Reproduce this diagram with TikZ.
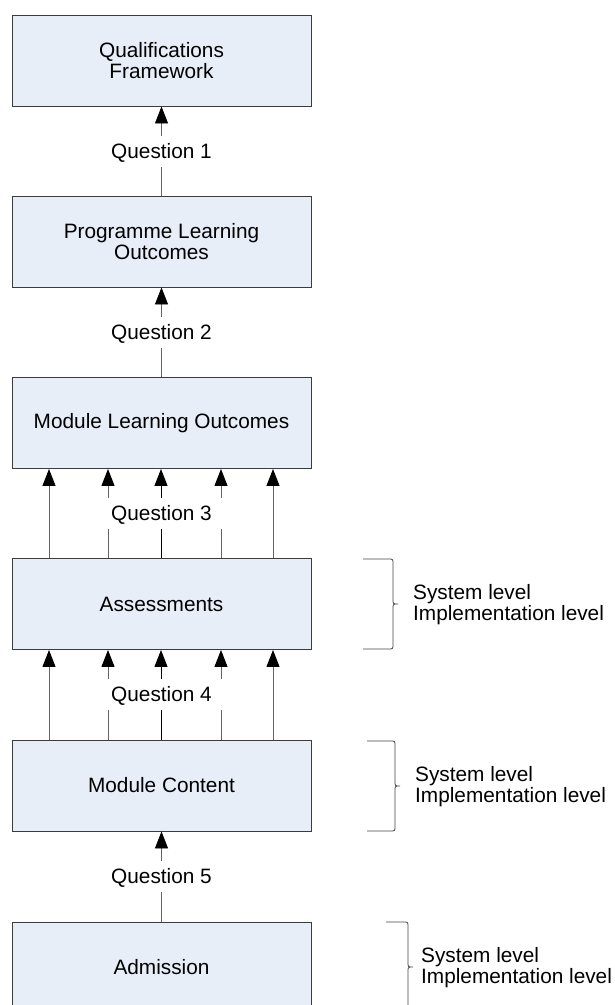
\documentclass[tikz,border=0pt]{standalone}
\usepackage{fontspec}
\setmainfont{Liberation Sans}
\usetikzlibrary{arrows.meta,calc}
\definecolor{boxfill}{RGB}{232,238,248}
\definecolor{boxline}{RGB}{60,60,60}
\definecolor{connline}{RGB}{100,100,100}
\definecolor{braceline}{RGB}{70,70,70}
\tikzset{
  stagebox/.style={draw=boxline, line width=0.9pt, fill=boxfill, minimum width=299pt, minimum height=91pt, inner sep=0pt, align=center, font=\fontsize{20.8}{21}\selectfont},
  conn/.style={draw=connline, line width=0.9pt, -{Triangle[length=17pt,width=13pt,color=black]}},
  connmid/.style={conn, draw=black},
  qlabel/.style={fill=white, font=\fontsize{20.8}{21}\selectfont, text height=15pt, text depth=1pt, inner ysep=7.5pt, inner xsep=4pt},
  qwide/.style={qlabel, minimum width=124pt},
  bracestyle/.style={draw=braceline, line width=0.8pt},
  leveltext/.style={align=left, anchor=west, inner sep=0pt, font=\fontsize{20.8}{21}\selectfont}
}
\begin{document}
\begin{tikzpicture}[x=1pt,y=-1pt]
\clip (0,0) rectangle (614,1005);
\fill[white] (0,0) rectangle (614,1005);

% boxes
\node[stagebox] (b1) at (161.5,60.5) {Qualifications\\Framework};
\node[stagebox] (b2) at (161.5,241.5) {Programme Learning\\Outcomes};
\node[stagebox] (b3) at (161.5,423) {Module Learning Outcomes};
\node[stagebox] (b4) at (161.5,604) {Assessments};
\node[stagebox] (b5) at (161.5,785.5) {Module Content};
\node[stagebox] (b6) at (161.5,967.5) {Admission};

% single connectors
\draw[conn] (b2.north) -- (b1.south) node[qlabel, midway] (q1) {Question 1};
\draw[conn] (b3.north) -- (b2.south) node[qlabel, midway] (q2) {Question 2};
\draw[conn] (b6.north) -- (b5.south) node[qlabel, midway] (q5) {Question 5};

% multiple connectors
\foreach \dx in {-112.5,-53.5,59.5,111.5} {
  \draw[conn] ([xshift=\dx pt]b4.north) -- ([xshift=\dx pt]b3.south);
  \draw[conn] ([xshift=\dx pt]b5.north) -- ([xshift=\dx pt]b4.south);
}
\draw[connmid] ([xshift=-0.5pt]b4.north) -- ([xshift=-0.5pt]b3.south);
\draw[connmid] ([xshift=-0.5pt]b5.north) -- ([xshift=-0.5pt]b4.south);
\node[qwide] (q3) at ($(b3.south)!0.5!(b4.north)$) {Question 3};
\node[qwide] (q4) at ($(b4.south)!0.5!(b5.north)$) {Question 4};

% braces
\draw[bracestyle] (363,559) -- (388,559) .. controls (393,559) .. (393,564) -- (393,599)
  .. controls (393,604) .. (398,604) .. controls (393,604) .. (393,609) -- (393,644)
  .. controls (393,649) .. (388,649) -- (363,649);
\node[leveltext] (t1) at (413,605) {System level\\Implementation level};

\draw[bracestyle] (367,741) -- (390,741) .. controls (395,741) .. (395,746) -- (395,781)
  .. controls (395,786) .. (400,786) .. controls (395,786) .. (395,791) -- (395,826)
  .. controls (395,831) .. (390,831) -- (367,831);
\node[leveltext] (t2) at (415,787) {System level\\Implementation level};

\draw[bracestyle] (386,922) -- (403,922) .. controls (408,922) .. (408,927) -- (408,962)
  .. controls (408,967) .. (413,967) .. controls (408,967) .. (408,972) -- (408,1008)
  .. controls (408,1013) .. (403,1013) -- (386,1013);
\node[leveltext] (t3) at (421,968) {System level\\Implementation level};
\end{tikzpicture}
\end{document}
